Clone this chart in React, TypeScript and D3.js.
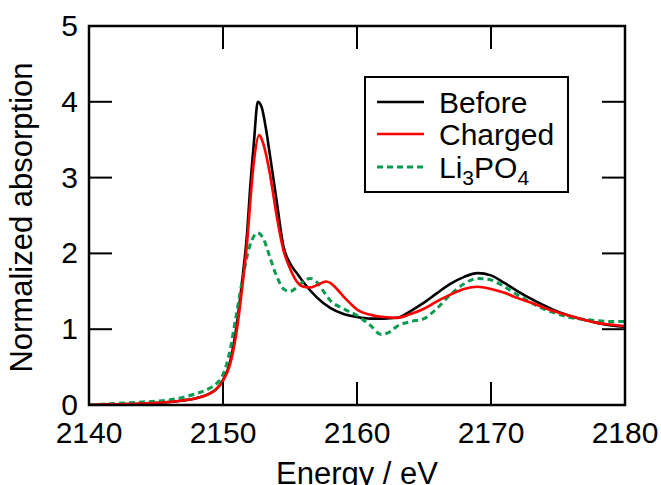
import React, { useMemo } from 'react';
import * as d3 from 'd3';

// energy grid (eV) and normalized absorption
const energyBefore = [2140, 2142, 2144, 2146, 2147, 2148, 2149, 2149.5, 2150, 2150.5, 2151, 2151.5, 2151.8, 2152, 2152.3, 2152.6, 2152.9, 2153.2, 2153.5, 2154, 2154.5, 2155, 2155.5, 2156, 2157, 2158, 2159, 2160, 2161, 2162, 2163, 2164, 2165, 2166, 2167, 2168, 2169, 2170, 2171, 2172, 2173, 2174, 2175, 2176, 2177, 2178, 2179, 2180];
const before = [0, 0.01, 0.02, 0.04, 0.06, 0.09, 0.15, 0.21, 0.33, 0.55, 1.03, 1.75, 2.27, 2.8, 3.45, 4.0, 3.92, 3.65, 3.3, 2.7, 2.1, 1.87, 1.74, 1.62, 1.42, 1.28, 1.2, 1.16, 1.14, 1.14, 1.15, 1.24, 1.35, 1.48, 1.6, 1.69, 1.74, 1.71, 1.61, 1.5, 1.4, 1.31, 1.23, 1.17, 1.12, 1.08, 1.05, 1.03];

const energyCharged = [2140, 2142, 2144, 2146, 2147, 2148, 2149, 2149.5, 2150, 2150.5, 2151, 2151.5, 2151.8, 2152, 2152.3, 2152.7, 2153, 2153.5, 2154, 2154.5, 2155, 2155.5, 2156, 2156.5, 2157, 2157.7, 2158, 2158.5, 2159, 2159.5, 2160, 2161, 2162, 2163, 2164, 2165, 2166, 2167, 2168, 2169, 2170, 2171, 2172, 2173, 2174, 2175, 2176, 2177, 2178, 2179, 2180];
const charged = [0, 0.01, 0.02, 0.04, 0.06, 0.09, 0.15, 0.21, 0.32, 0.52, 0.95, 1.65, 2.15, 2.6, 3.2, 3.56, 3.45, 3.05, 2.5, 2.05, 1.8, 1.63, 1.56, 1.55, 1.58, 1.63, 1.61, 1.53, 1.43, 1.34, 1.26, 1.19, 1.16, 1.15, 1.2, 1.27, 1.37, 1.46, 1.53, 1.56, 1.53, 1.48, 1.41, 1.35, 1.28, 1.22, 1.17, 1.12, 1.08, 1.06, 1.04];

const energyLi = [2140, 2142, 2144, 2145, 2147, 2148, 2149, 2149.5, 2150, 2150.5, 2151, 2151.5, 2152, 2152.6, 2153, 2153.5, 2154, 2154.6, 2155, 2155.5, 2156, 2156.5, 2157, 2157.5, 2158, 2159, 2160, 2161, 2161.8, 2162.5, 2163, 2164, 2165, 2166, 2167, 2168, 2169, 2170, 2171, 2172, 2173, 2174, 2175, 2176, 2177, 2178, 2179, 2180];
const li3po4 = [0, 0.02, 0.04, 0.05, 0.1, 0.15, 0.22, 0.28, 0.4, 0.7, 1.2, 1.7, 2.1, 2.27, 2.2, 1.95, 1.7, 1.52, 1.5, 1.55, 1.63, 1.67, 1.62, 1.5, 1.38, 1.27, 1.18, 1.05, 0.93, 0.97, 1.04, 1.1, 1.14, 1.28, 1.46, 1.6, 1.67, 1.65, 1.56, 1.45, 1.35, 1.26, 1.2, 1.15, 1.13, 1.11, 1.1, 1.1];

const xTicks = [2140, 2150, 2160, 2170, 2180];
const yTicks = [0, 1, 2, 3, 4, 5];

const font = "'Liberation Sans', Arial, Helvetica, sans-serif";
const green = '#0a9a50';

export default function App() {
  const width = 661;
  const height = 485;
  const m = { left: 89, right: 625, top: 26, bottom: 405 };
  const tickLen = 23;

  const x = useMemo(() => d3.scaleLinear().domain([2140, 2180]).range([m.left, m.right]), []);
  const y = useMemo(() => d3.scaleLinear().domain([0, 5]).range([m.bottom, m.top]), []);

  const line = (xs: number[], ys: number[]) =>
    d3.line<number>()
      .x((_, i) => x(xs[i]))
      .y((d) => y(d))
      .curve(d3.curveMonotoneX)(ys) || '';

  const series = [
    { name: 'Before', path: line(energyBefore, before), color: '#000', dash: undefined, w: 2.6 },
    { name: 'Charged', path: line(energyCharged, charged), color: '#ff0000', dash: undefined, w: 2.6 },
    { name: 'Li3PO4', path: line(energyLi, li3po4), color: green, dash: '6,4', w: 3 },
  ];

  const legendRows = [102, 134, 167];

  return (
    <svg width={width} height={height} style={{ position: 'absolute', left: 0, top: 0, background: '#fff' }}>
      <defs>
        <clipPath id="plot-clip">
          <rect x={m.left} y={m.top} width={m.right - m.left} height={m.bottom - m.top} />
        </clipPath>
      </defs>

      {/* curves, drawn back to front */}
      <g clipPath="url(#plot-clip)" fill="none">
        {[series[0], series[2], series[1]].map((s) => (
          <path key={s.name} d={s.path} stroke={s.color} strokeWidth={s.w} strokeDasharray={s.dash} />
        ))}
      </g>

      {/* ticks on all four sides, pointing inward */}
      <g stroke="#000" strokeWidth={2}>
        {xTicks.map((t) => (
          <g key={'x' + t}>
            <line x1={x(t)} x2={x(t)} y1={m.bottom} y2={m.bottom - tickLen} />
            <line x1={x(t)} x2={x(t)} y1={m.top} y2={m.top + tickLen} />
          </g>
        ))}
        {yTicks.map((t) => (
          <g key={'y' + t}>
            <line x1={m.left} x2={m.left + tickLen} y1={y(t)} y2={y(t)} />
            <line x1={m.right} x2={m.right - tickLen} y1={y(t)} y2={y(t)} />
          </g>
        ))}
      </g>

      <rect x={m.left} y={m.top} width={m.right - m.left} height={m.bottom - m.top} fill="none" stroke="#000" strokeWidth={2.5} />

      {/* tick labels */}
      <g fontFamily={font} fontSize={30} fill="#000">
        {xTicks.map((t) => (
          <text key={'xl' + t} x={x(t)} y={443} textAnchor="middle">{t}</text>
        ))}
        {yTicks.map((t) => (
          <text key={'yl' + t} x={78} y={y(t) + 10} textAnchor="end">{t}</text>
        ))}
      </g>

      {/* axis titles */}
      <text x={(m.left + m.right) / 2} y={484} textAnchor="middle" fontFamily={font} fontSize={31}>Energy / eV</text>
      <text transform={`translate(32, ${(m.top + m.bottom) / 2 + 2}) rotate(-90)`} textAnchor="middle" fontFamily={font} fontSize={31}>Normalized absorption</text>

      {/* legend */}
      <rect x={365} y={77} width={203} height={115} fill="#fff" stroke="#000" strokeWidth={2} />
      {series.map((s, i) => (
        <g key={'lg' + s.name}>
          <line x1={377} x2={424} y1={legendRows[i]} y2={legendRows[i]} stroke={s.color} strokeWidth={s.w} strokeDasharray={s.dash} />
          <text x={439} y={legendRows[i] + 11} fontFamily={font} fontSize={30}>
            {s.name === 'Li3PO4' ? (
              <>
                Li<tspan fontSize={21} dy={7}>3</tspan><tspan dy={-7}>PO</tspan><tspan fontSize={21} dy={7}>4</tspan>
              </>
            ) : s.name}
          </text>
        </g>
      ))}
    </svg>
  );
}
